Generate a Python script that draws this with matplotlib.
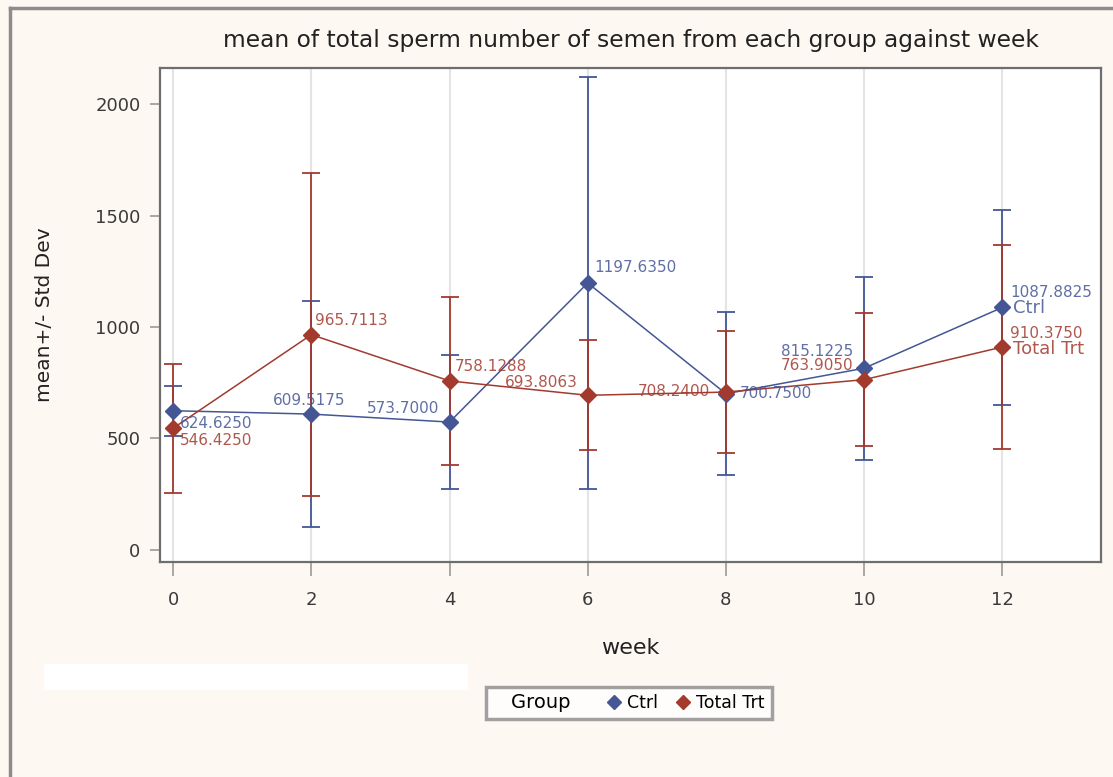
import matplotlib
matplotlib.use('Agg')
import matplotlib.pyplot as plt
from matplotlib.lines import Line2D
from matplotlib.patches import Rectangle

# Dados
semanas = [0, 2, 4, 6, 8, 10, 12]
ctrl_media = [624.6250, 609.5175, 573.7000, 1197.6350, 700.7500, 815.1225, 1087.8825]
ctrl_dp = [113, 508, 301, 922, 365, 410, 437]
trt_media = [546.4250, 965.7113, 758.1288, 693.8063, 708.2400, 763.9050, 910.3750]
trt_dp = [290, 724, 375, 246, 275, 298, 459]
grupos = ['Ctrl', 'Total Trt']

azul = '#445694'
vermelho = '#A23A2E'
fundo = '#FEF8F3'

# posicao dos rotulos (em pixels, relativo ao ponto) e alinhamento
pos_ctrl = [(7, -13, 'left'), (-2, 14, 'center'), (-10, 14, 'right'), (7, 15, 'left'),
            (14, 0, 'left'), (-11, 17, 'right'), (8, 15, 'left')]
pos_trt = [(7, -12, 'left'), (4, 14, 'left'), (5, 14, 'left'), (-10, 13, 'right'),
           (-16, 1, 'right'), (-11, 14, 'right'), (8, 14, 'left')]

plt.rcParams['font.family'] = ['DejaVu Sans']

fig = plt.figure(figsize=(11.13, 7.77), dpi=100, facecolor=fundo)
ax = fig.add_axes([0.1438, 0.2767, 0.8455, 0.6358])
ax.set_facecolor('white')

# Linhas de grade verticais
ax.grid(axis='x', color='#e4e4e4', linewidth=1.5)
ax.set_axisbelow(True)

# Series com barras de erro
for media, dp, cor in [(ctrl_media, ctrl_dp, azul), (trt_media, trt_dp, vermelho)]:
    ax.errorbar(semanas, media, yerr=dp, color=cor, linewidth=1.1, elinewidth=1.3,
                capsize=6.5, capthick=1.3, marker='D', markersize=8, zorder=3)

# Rotulos dos valores
for media, pos, cor in [(ctrl_media, pos_ctrl, azul), (trt_media, pos_trt, vermelho)]:
    for x, y, (dx, dy, ha) in zip(semanas, media, pos):
        ax.annotate(f'{y:.4f}', (x, y), xytext=(dx, dy), textcoords='offset pixels',
                    ha=ha, va='center', fontsize=11, color=cor, alpha=0.85, zorder=4)

# Nome do grupo no ultimo ponto
ax.annotate(grupos[0], (semanas[-1], ctrl_media[-1]), xytext=(11, -1), textcoords='offset pixels',
            ha='left', va='center', fontsize=13, color=azul, alpha=0.85)
ax.annotate(grupos[1], (semanas[-1], trt_media[-1]), xytext=(11, -2), textcoords='offset pixels',
            ha='left', va='center', fontsize=13, color=vermelho, alpha=0.85)

ax.set_xlim(-0.19, 13.43)
ax.set_ylim(-54, 2162)
ax.set_xticks(semanas)
ax.set_yticks([0, 500, 1000, 1500, 2000])

for sp in ax.spines.values():
    sp.set_color('#6e6e6e')
    sp.set_linewidth(1.6)

ax.tick_params(axis='both', colors='#9a9a9a', width=1.2, labelsize=13, labelcolor='#3a3a3a')
ax.tick_params(axis='x', length=10, pad=11)
ax.tick_params(axis='y', length=7, pad=7)

ax.set_title('mean of total sperm number of semen from each group against week',
             fontsize=16.8, color='#222222', pad=15)
ax.set_xlabel('week', fontsize=16, color='#222222', labelpad=21)
ax.set_ylabel('mean+/- Std Dev', fontsize=14.5, color='#222222', labelpad=30)

# Legenda
vazio = Line2D([], [], linestyle='none')
h_ctrl = Line2D([], [], linestyle='none', marker='D', color=azul, markersize=7)
h_trt = Line2D([], [], linestyle='none', marker='D', color=vermelho, markersize=7)
leg = fig.legend([vazio, h_ctrl, h_trt], ['Group   ', 'Ctrl', 'Total Trt'], ncol=3,
                 loc='center', bbox_to_anchor=(629 / 1113, 1 - 703 / 777),
                 handlelength=0.5, handletextpad=0.5, columnspacing=1.2,
                 fontsize=12.5, frameon=True, fancybox=False, borderpad=0.4)
leg.get_frame().set_edgecolor('#8a8a8a')
leg.get_frame().set_linewidth(2.5)
leg.get_texts()[0].set_fontsize(14)

# Retangulo branco no canto inferior esquerdo
fig.patches.append(Rectangle((44 / 1113, 1 - 690 / 777), 424 / 1113, 26 / 777,
                             transform=fig.transFigure, facecolor='white', edgecolor='none'))

# Bordas cinza da figura
fig.add_artist(Line2D([10 / 1113, 10 / 1113], [0, 1 - 8 / 777], transform=fig.transFigure,
                      color='#8c8c8c', linewidth=2.5))
fig.add_artist(Line2D([10 / 1113, 1], [1 - 8 / 777, 1 - 8 / 777], transform=fig.transFigure,
                      color='#8c8c8c', linewidth=2.5))

fig.savefig('out.png', dpi=100, facecolor=fundo)
